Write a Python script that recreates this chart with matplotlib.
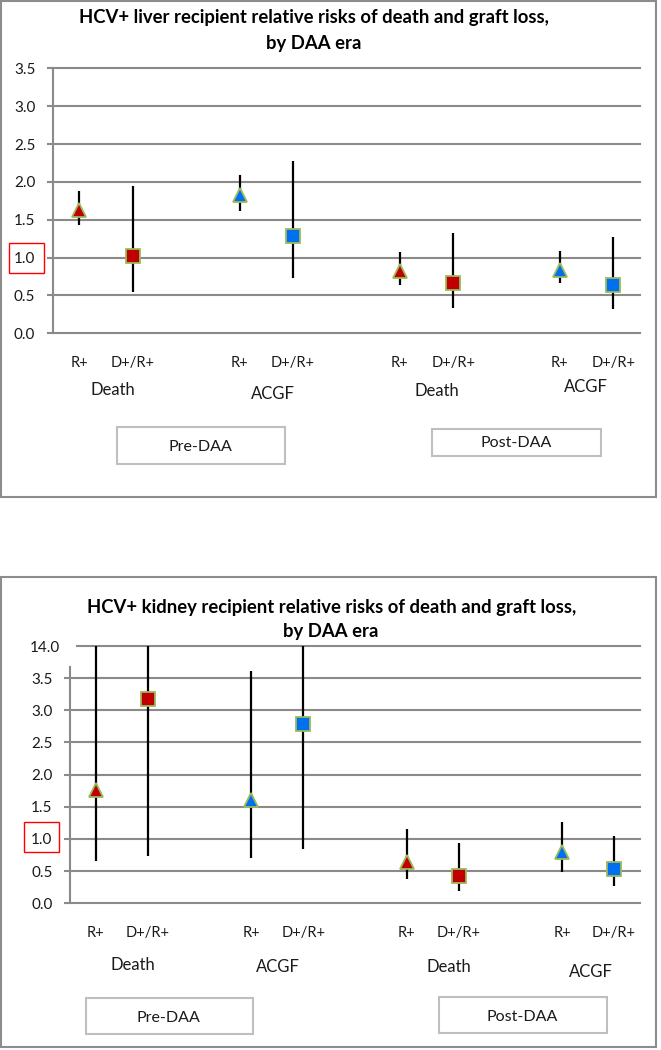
import matplotlib
matplotlib.use('Agg')
import matplotlib.pyplot as plt
import numpy as np
from matplotlib.patches import Rectangle
from matplotlib.transforms import ScaledTranslation

plt.rcParams['font.family'] = ['Lato', 'DejaVu Sans']

W, H = 661, 1050

# ---------------- data ----------------
positions = [0, 1, 3, 4, 6, 7, 9, 10]
subgroup_labels = ['R+', 'D+/R+', 'R+', 'D+/R+', 'R+', 'D+/R+', 'R+', 'D+/R+']
outcome_labels = ['Death', 'ACGF', 'Death', 'ACGF']
era_labels = ['Pre-DAA', 'Post-DAA']
marker_shapes = ['^', 's', '^', 's', '^', 's', '^', 's']
marker_colors = ['#C00000', '#C00000', '#0070F0', '#0070F0',
                 '#C00000', '#C00000', '#0070F0', '#0070F0']

liver_title = ['HCV+ liver recipient relative risks of death and graft loss,', 'by DAA era']
liver_rr = [1.63, 1.02, 1.83, 1.28, 0.82, 0.67, 0.84, 0.64]
liver_lo = [1.43, 0.54, 1.61, 0.73, 0.64, 0.33, 0.66, 0.32]
liver_hi = [1.88, 1.95, 2.09, 2.28, 1.08, 1.32, 1.09, 1.27]
liver_ticks = [0.0, 0.5, 1.0, 1.5, 2.0, 2.5, 3.0, 3.5]

kidney_title = ['HCV+ kidney recipient relative risks of death and graft loss,', 'by DAA era']
kidney_rr = [1.76, 3.18, 1.60, 2.79, 0.64, 0.43, 0.79, 0.53]
kidney_lo = [0.66, 0.74, 0.71, 0.85, 0.38, 0.19, 0.49, 0.27]
kidney_hi = [14.0, 14.0, 5.8, 14.0, 1.16, 0.94, 1.26, 1.05]
kidney_ticks = [0.0, 0.5, 1.0, 1.5, 2.0, 2.5, 3.0, 3.5, 14.0]

# --------------- styling ---------------
GRID = '#8A8A8A'
EDGE = '#9BBB59'
BOXC = '#BFBFBF'
TXT = '#1A1A1A'


def fx(x):
    return x / W


def fy(y):
    return 1 - y / H


def brk_fwd(y):
    y = np.asarray(y, dtype=float)
    return np.where(y <= 3.5, y, 3.5 + (y - 3.5) / 21.0)


def brk_inv(z):
    z = np.asarray(z, dtype=float)
    return np.where(z <= 3.5, z, 3.5 + (z - 3.5) * 21.0)


fig = plt.figure(figsize=(W / 100, H / 100), dpi=100)


def panel(rect, rr, lo, hi, ticks, broken):
    ax = fig.add_axes(rect)
    if broken:
        ax.set_yscale('function', functions=(brk_fwd, brk_inv))
    ax.set_xlim(-0.5, 10.5)
    ax.set_ylim(0, ticks[-1])
    for s in ['top', 'right', 'bottom']:
        ax.spines[s].set_visible(False)
    ax.spines['left'].set_color(GRID)
    ax.spines['left'].set_linewidth(1.5)
    # gridlines
    for t in ticks:
        xmin = 0.0
        if broken and t == ticks[-1]:
            xmin = 0.012
        ax.axhline(t, xmin=xmin, xmax=1, color=GRID, lw=1.5, zorder=1, clip_on=False)
    ax.set_yticks(ticks)
    ax.set_yticklabels(['%.1f' % t for t in ticks])
    ax.tick_params(axis='y', length=4.5, width=1.5, color=GRID, pad=8,
                   labelsize=11, labelcolor=TXT)
    ax.set_xticks(positions)
    ax.set_xticklabels(subgroup_labels)
    ax.tick_params(axis='x', length=0, pad=16, labelsize=10.5, labelcolor=TXT)
    if broken:
        ax.spines['left'].set_bounds(0, float(brk_inv(3.673)))
        ticks_objs = ax.yaxis.get_major_ticks()
        ticks_objs[-1].tick1line.set_visible(False)
        lab = ticks_objs[-1].label1
        lab.set_transform(lab.get_transform() + ScaledTranslation(7 / 100, 0, fig.dpi_scale_trans))
    # error bars and markers
    ax.vlines(positions, lo, hi, color='black', lw=1.6, zorder=3, clip_on=False)
    for x, v, m, c in zip(positions, rr, marker_shapes, marker_colors):
        ax.plot([x], [v], marker=m, ms=9.5, mfc=c, mec=EDGE, mew=1.3,
                ls='none', zorder=4, clip_on=False)
    return ax


def px_rect(x0, y0, x1, y1, ec, lw):
    r = Rectangle((fx(x0), fy(y1)), fx(x1) - fx(x0), fy(y0) - fy(y1),
                  transform=fig.transFigure, fill=False, ec=ec, lw=lw)
    fig.add_artist(r)


# ---------- liver panel ----------
px_rect(1, 1, 656, 497, '#8C8C8C', 1.5)
ax1 = panel([fx(52.7), fy(333.3), fx(640) - fx(52.7), fy(68.3) - fy(333.3)],
            liver_rr, liver_lo, liver_hi, liver_ticks, False)
fig.text(fx(313.5), fy(18), liver_title[0], ha='center', va='center',
         fontsize=13.3, fontweight='bold', color='black')
fig.text(fx(314), fy(43), liver_title[1], ha='center', va='center',
         fontsize=13.3, fontweight='bold', color='black')
for lab, (x, y) in zip(outcome_labels, [(113.3, 390), (272.7, 394.3), (437.3, 390.7), (586, 387.3)]):
    fig.text(fx(x), fy(y), lab, ha='center', va='center', fontsize=12, color=TXT)
px_rect(116.7, 427.3, 285, 464.3, BOXC, 1.5)
px_rect(432, 428.7, 600.7, 456, BOXC, 1.5)
fig.text(fx(200), fy(447.3), era_labels[0], ha='center', va='center', fontsize=11.5, color=TXT)
fig.text(fx(515.7), fy(442.7), era_labels[1], ha='center', va='center', fontsize=11.5, color=TXT)
px_rect(9.3, 243.3, 43.7, 273.3, '#FF0000', 1.0)

# ---------- kidney panel ----------
px_rect(1, 577.3, 656, 1047.3, '#8C8C8C', 1.5)
ax2 = panel([fx(70), fy(903.3), fx(640) - fx(70), fy(646) - fy(903.3)],
            kidney_rr, kidney_lo, kidney_hi, kidney_ticks, True)
fig.text(fx(331.3), fy(607.3), kidney_title[0], ha='center', va='center',
         fontsize=13.3, fontweight='bold', color='black')
fig.text(fx(330.3), fy(631), kidney_title[1], ha='center', va='center',
         fontsize=13.3, fontweight='bold', color='black')
for lab, (x, y) in zip(outcome_labels, [(133.3, 965), (277.7, 966.7), (449, 967.3), (590.7, 972.3)]):
    fig.text(fx(x), fy(y), lab, ha='center', va='center', fontsize=12, color=TXT)
px_rect(85.7, 998, 252.7, 1034.3, BOXC, 1.5)
px_rect(438.7, 997.3, 606.7, 1032.7, BOXC, 1.5)
fig.text(fx(168.3), fy(1018.3), era_labels[0], ha='center', va='center', fontsize=11.5, color=TXT)
fig.text(fx(522.3), fy(1016.7), era_labels[1], ha='center', va='center', fontsize=11.5, color=TXT)
px_rect(24, 822.3, 59, 851.7, '#FF0000', 1.0)

fig.savefig('out.png', dpi=100)
